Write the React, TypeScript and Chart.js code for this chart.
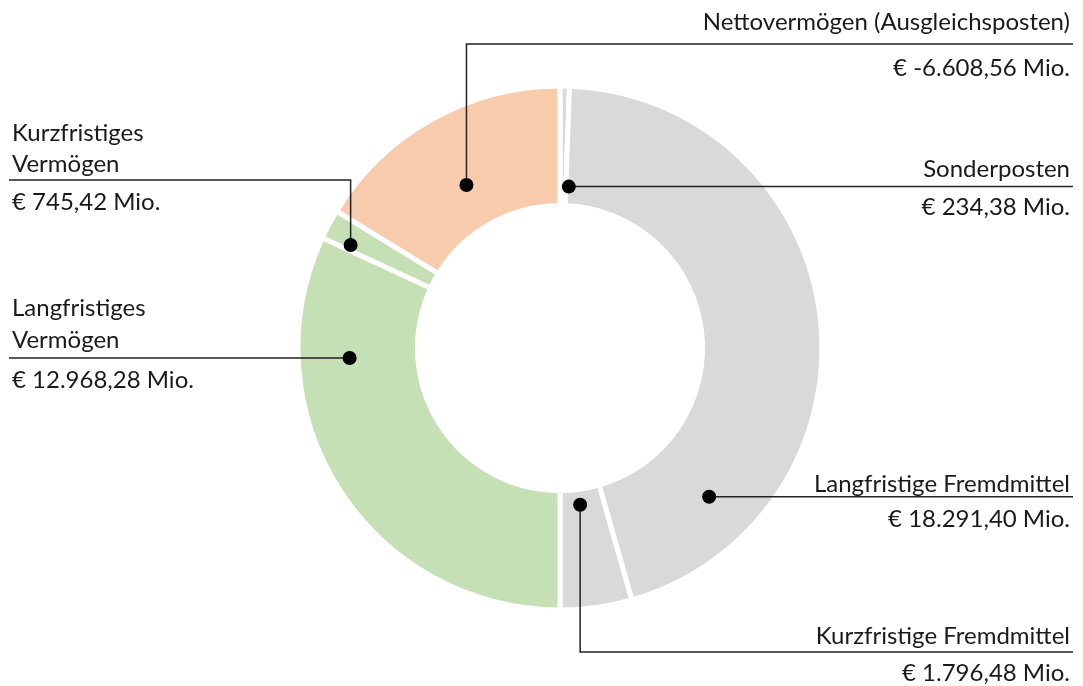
import React, { useEffect, useRef } from 'react';
import { Chart, registerables } from 'chart.js';

Chart.register(...registerables);

// ---- Data ----
const categories = [
  'Sonderposten',
  'Langfristige Fremdmittel',
  'Kurzfristige Fremdmittel',
  'Langfristiges Vermögen',
  'Kurzfristiges Vermögen',
  'Nettovermögen (Ausgleichsposten)',
];
const values = [234.38, 18291.4, 1796.48, 12968.28, 745.42, -6608.56];
const nameLines = [
  ['Sonderposten'],
  ['Langfristige Fremdmittel'],
  ['Kurzfristige Fremdmittel'],
  ['Langfristiges', 'Vermögen'],
  ['Kurzfristiges', 'Vermögen'],
  ['Nettovermögen (Ausgleichsposten)'],
];
const colors = ['#d9d9d9', '#d9d9d9', '#d9d9d9', '#c5e0b4', '#c5e0b4', '#f8cbad'];

// ---- Label layout (positions/styles) ----
// t: fraction along the arc's angle, rf: fraction from inner to outer radius
const labelLayout = [
  { t: 1.5, rf: 0.16, side: 'right', elbowY: null, nameY: [169], valueY: 207 },
  { t: 0.82, rf: 0.57, side: 'right', elbowY: null, nameY: [484], valueY: 519 },
  { t: 0.54, rf: 0.13, side: 'right', elbowY: 652, nameY: [636], valueY: 673 },
  { t: 0.76, rf: 0.57, side: 'left', elbowY: null, nameY: [308, 340], valueY: 380 },
  { t: 0.2, rf: 0.76, side: 'left', elbowY: 180, nameY: [133, 164], valueY: 202 },
  { t: 0.49, rf: 0.38, side: 'right', elbowY: 44, nameY: [22], valueY: 68 },
];

const FONT = '24px Lato, "Open Sans", sans-serif';
const TEXT_COLOR = '#1a1a1a';
const LINE_COLOR = '#222222';

function fmtDE(v: number): string {
  const neg = v < 0;
  const abs = Math.abs(v);
  const fixed = abs.toFixed(2);
  const [intPart, dec] = fixed.split('.');
  const withDots = intPart.replace(/\B(?=(\d{3})+(?!\d))/g, '.');
  return `€ ${neg ? '-' : ''}${withDots},${dec} Mio.`;
}

const labelPlugin = {
  id: 'leaderLabels',
  afterDatasetsDraw(chart: any) {
    const ctx: CanvasRenderingContext2D = chart.ctx;
    const meta = chart.getDatasetMeta(0);
    const W = chart.width;
    const rightEnd = W - 10;
    const rightText = W - 13;
    const leftEnd = 9;
    const leftText = 12;
    meta.data.forEach((arc: any, i: number) => {
      const L = labelLayout[i];
      const p = arc.getProps(['x', 'y', 'startAngle', 'endAngle', 'innerRadius', 'outerRadius'], true);
      const ang = p.startAngle + L.t * (p.endAngle - p.startAngle);
      const r = p.innerRadius + L.rf * (p.outerRadius - p.innerRadius);
      const dx = p.x + r * Math.cos(ang);
      const dy = p.y + r * Math.sin(ang);
      const endX = L.side === 'right' ? rightEnd : leftEnd;

      ctx.save();
      ctx.strokeStyle = LINE_COLOR;
      ctx.lineWidth = 1.5;
      ctx.beginPath();
      ctx.moveTo(dx, dy);
      if (L.elbowY !== null) {
        ctx.lineTo(dx, L.elbowY);
        ctx.lineTo(endX, L.elbowY);
      } else {
        ctx.lineTo(endX, dy);
      }
      ctx.stroke();

      ctx.fillStyle = '#000';
      ctx.beginPath();
      ctx.arc(dx, dy, 7, 0, Math.PI * 2);
      ctx.fill();

      ctx.font = FONT;
      ctx.fillStyle = TEXT_COLOR;
      ctx.textBaseline = 'middle';
      ctx.textAlign = L.side === 'right' ? 'right' : 'left';
      const tx = L.side === 'right' ? rightText : leftText;
      nameLines[i].forEach((line, k) => ctx.fillText(line, tx, L.nameY[k]));
      ctx.fillText(fmtDE(values[i]), tx, L.valueY);
      ctx.restore();
    });
  },
};

export default function App() {
  const ref = useRef<HTMLCanvasElement | null>(null);
  useEffect(() => {
    if (!ref.current) return;
    const chart = new Chart(ref.current, {
      type: 'doughnut',
      data: {
        labels: categories,
        datasets: [
          {
            data: values.map((v) => Math.abs(v)),
            backgroundColor: colors,
            borderColor: '#ffffff',
            borderWidth: 5,
            hoverOffset: 0,
          },
        ],
      },
      options: {
        responsive: false,
        animation: false,
        devicePixelRatio: 1,
        radius: 262,
        cutout: '54.4%',
        layout: { padding: { left: 300, right: 263, top: 88, bottom: 78 } },
        plugins: {
          legend: { display: false },
          tooltip: { enabled: false },
        },
      },
      plugins: [labelPlugin],
    });
    return () => chart.destroy();
  }, []);
  return (
    <div style={{ position: 'absolute', left: 0, top: 0, width: 1083, height: 686, background: '#fff' }}>
      <canvas ref={ref} width={1083} height={686} style={{ width: 1083, height: 686 }} />
    </div>
  );
}
